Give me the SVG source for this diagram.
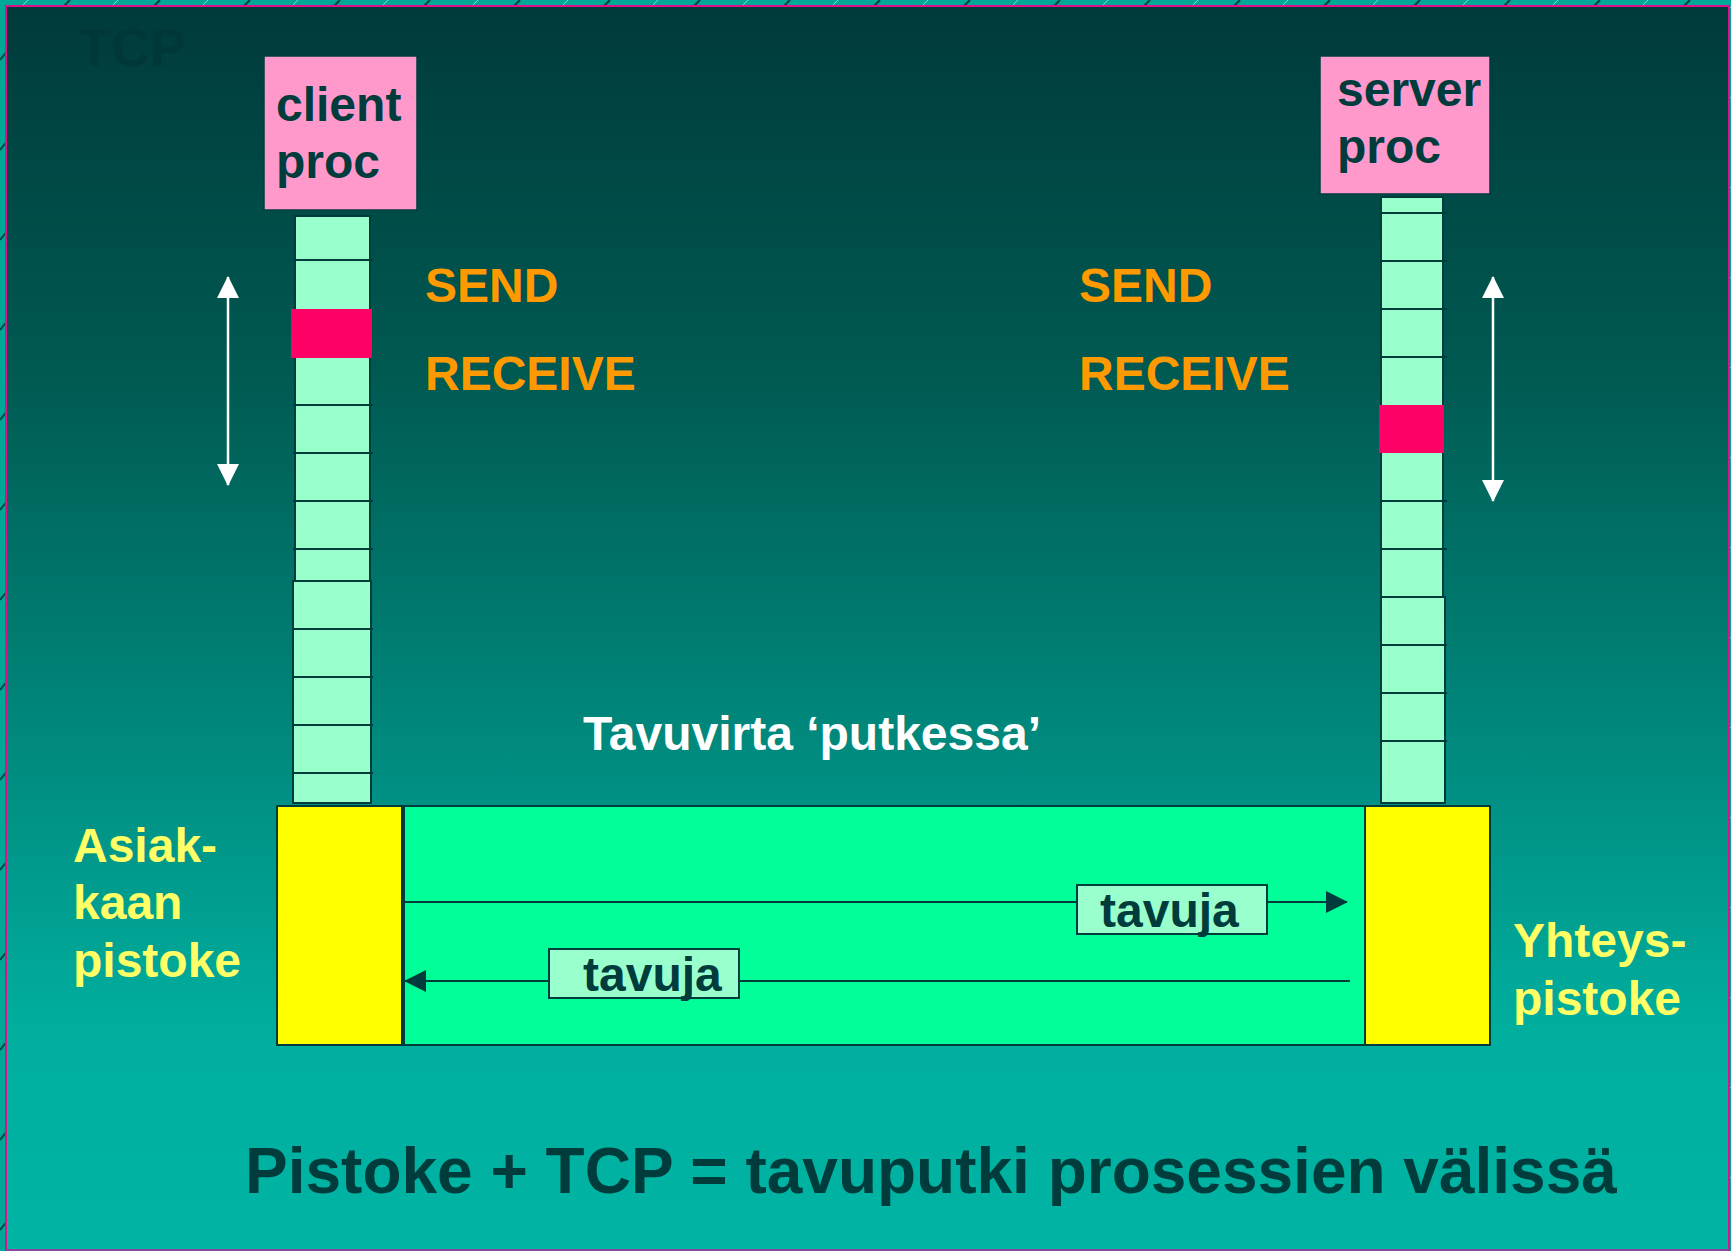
<svg xmlns="http://www.w3.org/2000/svg" width="1731" height="1251" viewBox="0 0 1731 1251">
  <defs>
    <linearGradient id="bg" x1="0" y1="0" x2="0" y2="1251" gradientUnits="userSpaceOnUse">
      <stop offset="0" stop-color="#003a3a"/>
      <stop offset="0.3" stop-color="#005a52"/>
      <stop offset="0.82" stop-color="#00ae9e"/>
      <stop offset="1" stop-color="#00b4a4"/>
    </linearGradient>
    <pattern id="hatch" x="0" y="0" width="90" height="90" patternUnits="userSpaceOnUse">
      <line x1="60" y1="10" x2="70" y2="0" stroke="#00403c" stroke-width="2"/>
      <line x1="20" y1="8" x2="28" y2="0" stroke="#7fd8cc" stroke-width="1"/>
      <line x1="0" y1="60" x2="8" y2="50" stroke="#00403c" stroke-width="2"/>
    </pattern>
    <marker id="head" viewBox="0 0 22 22" refX="21" refY="11" markerWidth="22" markerHeight="22" markerUnits="userSpaceOnUse" orient="auto">
      <path d="M0,0 L22,11 L0,22 Z" fill="#003c3c"/>
    </marker>
    <marker id="whitehead" viewBox="0 0 22 22" refX="21" refY="11" markerWidth="22" markerHeight="22" markerUnits="userSpaceOnUse" orient="auto-start-reverse">
      <path d="M0,0 L22,11 L0,22 Z" fill="#ffffff"/>
    </marker>
  </defs>
  <style>
    text { font-family: "Liberation Sans", Arial, sans-serif; font-weight: bold; }
    .proc { fill: #ff99cc; stroke: #003c3c; stroke-width: 1.5; }
    .proctext { fill: #003c3c; font-size: 48px; }
    .cell { fill: #99ffcc; stroke: #003c3c; stroke-width: 2; }
    .tick { stroke: #003c3c; stroke-width: 2; }
    .hot { fill: #ff0066; }
    .sock { fill: #ffff00; stroke: #003c3c; stroke-width: 2; }
    .pipe { fill: #00ff99; stroke: #003c3c; stroke-width: 2; }
    .op { fill: #ff9900; font-size: 48px; }
    .side { fill: #ffff66; font-size: 48px; }
    .flow { stroke: #003c3c; stroke-width: 2; fill: none; }
    .tag { fill: #99ffcc; stroke: #003c3c; stroke-width: 2; }
    .tagtext { fill: #003c3c; font-size: 48px; }
    .move { stroke: #ffffff; stroke-width: 2.5; fill: none; }
  </style>

  <!-- frame -->
  <rect x="0" y="0" width="1731" height="1251" fill="#00a898"/>
  <rect x="0" y="0" width="1731" height="1251" fill="url(#hatch)"/>
  <rect x="6" y="6" width="1723" height="1244" fill="url(#bg)" stroke="#e0108a" stroke-width="2"/>
  <line x1="6" y1="1250" x2="1729" y2="1250" stroke="#6a5aa0" stroke-width="1.5"/>

  <!-- faint slide heading -->
  <text x="78" y="66" font-size="54" fill="#003838">TCP</text>

  <!-- process boxes -->
  <g id="client-proc">
    <rect class="proc" x="264" y="56" width="153" height="154"/>
    <text class="proctext" x="276" y="121">client</text>
    <text class="proctext" x="276" y="178">proc</text>
  </g>
  <g id="server-proc">
    <rect class="proc" x="1320" y="56" width="170" height="138"/>
    <text class="proctext" x="1337" y="106">server</text>
    <text class="proctext" x="1337" y="163">proc</text>
  </g>

  <!-- buffer columns -->
  <g id="client-buffer">
    <rect class="cell" x="295" y="216" width="75" height="365"/>
    <rect class="cell" x="293" y="581" width="78" height="222"/>
    <g class="tick">
      <line x1="293" y1="260" x2="373" y2="260"/>
      <line x1="293" y1="405" x2="373" y2="405"/>
      <line x1="293" y1="453" x2="373" y2="453"/>
      <line x1="293" y1="501" x2="373" y2="501"/>
      <line x1="293" y1="549" x2="373" y2="549"/>
      <line x1="293" y1="629" x2="373" y2="629"/>
      <line x1="293" y1="677" x2="373" y2="677"/>
      <line x1="293" y1="725" x2="373" y2="725"/>
      <line x1="293" y1="773" x2="373" y2="773"/>
    </g>
    <rect class="hot" x="291" y="309" width="81" height="49"/>
  </g>
  <g id="server-buffer">
    <rect class="cell" x="1381" y="197" width="62" height="400"/>
    <rect class="cell" x="1381" y="597" width="64" height="206"/>
    <g class="tick">
      <line x1="1381" y1="213" x2="1447" y2="213"/>
      <line x1="1381" y1="261" x2="1447" y2="261"/>
      <line x1="1381" y1="309" x2="1447" y2="309"/>
      <line x1="1381" y1="357" x2="1447" y2="357"/>
      <line x1="1381" y1="501" x2="1447" y2="501"/>
      <line x1="1381" y1="549" x2="1447" y2="549"/>
      <line x1="1381" y1="645" x2="1447" y2="645"/>
      <line x1="1381" y1="693" x2="1447" y2="693"/>
      <line x1="1381" y1="741" x2="1447" y2="741"/>
    </g>
    <rect class="hot" x="1379" y="405" width="65" height="48"/>
  </g>

  <!-- SEND / RECEIVE labels -->
  <g id="client-ops">
    <text class="op" x="425" y="302">SEND</text>
    <text class="op" x="425" y="390">RECEIVE</text>
  </g>
  <g id="server-ops">
    <text class="op" x="1079" y="302">SEND</text>
    <text class="op" x="1079" y="390">RECEIVE</text>
  </g>

  <!-- sockets and the byte pipe -->
  <g id="pipe">
    <rect class="pipe" x="404" y="806" width="961" height="239"/>
    <text x="583" y="750" font-size="48" fill="#ffffff">Tavuvirta ‘putkessa’</text>
  </g>
  <g id="client-socket">
    <rect class="sock" x="277" y="806" width="125" height="239"/>
    <text class="side" x="73" y="862">Asiak-</text>
    <text class="side" x="73" y="919">kaan</text>
    <text class="side" x="73" y="977">pistoke</text>
  </g>
  <g id="server-socket">
    <rect class="sock" x="1365" y="806" width="125" height="239"/>
    <text class="side" x="1513" y="957">Yhteys-</text>
    <text class="side" x="1513" y="1015">pistoke</text>
  </g>

  <!-- connectors -->
  <g id="connectors">
    <line class="move" x1="228" y1="277" x2="228" y2="485" marker-start="url(#whitehead)" marker-end="url(#whitehead)"/>
    <line class="move" x1="1493" y1="277" x2="1493" y2="501" marker-start="url(#whitehead)" marker-end="url(#whitehead)"/>
    <line class="flow" x1="404" y1="902" x2="1347" y2="902" marker-end="url(#head)"/>
    <line class="flow" x1="1350" y1="981" x2="405" y2="981" marker-end="url(#head)"/>
  </g>

  <!-- payload tags on the pipe arrows -->
  <g id="tag-out">
    <rect class="tag" x="1077" y="885" width="190" height="49"/>
    <text class="tagtext" x="1100" y="927">tavuja</text>
  </g>
  <g id="tag-in">
    <rect class="tag" x="549" y="949" width="190" height="49"/>
    <text class="tagtext" x="583" y="991">tavuja</text>
  </g>

  <!-- caption -->
  <text x="245" y="1193" font-size="64" fill="#003c3c">Pistoke + TCP = tavuputki prosessien välissä</text>
</svg>
